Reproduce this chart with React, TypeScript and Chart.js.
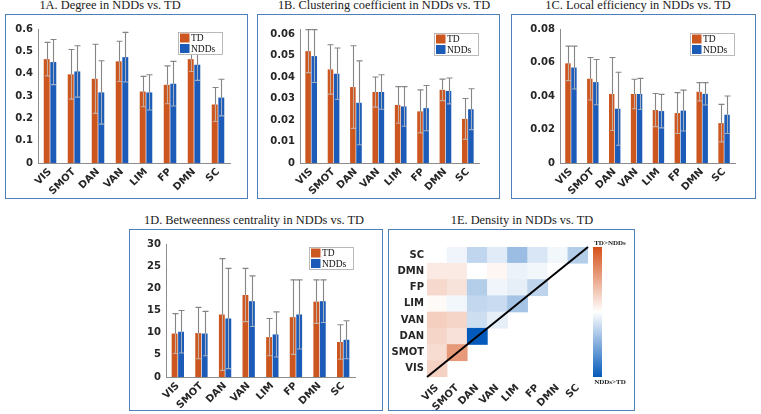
import React, { useEffect, useRef } from "react";
import { Chart, registerables } from "chart.js";

Chart.register(...registerables);

// ---------------- DATA ----------------
const networks = ["VIS", "SMOT", "DAN", "VAN", "LIM", "FP", "DMN", "SC"];
const seriesNames = ["TD", "NDDs"];

// 1A. Degree
const degreeTD = [0.465, 0.397, 0.377, 0.455, 0.32, 0.35, 0.465, 0.262];
const degreeNDD = [0.452, 0.41, 0.316, 0.474, 0.316, 0.355, 0.44, 0.293];
const degreeTDErr = [0.075, 0.111, 0.155, 0.09, 0.068, 0.085, 0.055, 0.076];
const degreeNDDErr = [0.101, 0.115, 0.142, 0.111, 0.079, 0.1, 0.07, 0.082];

// 1B. Clustering coefficient
const clusterTD = [0.052, 0.0435, 0.0353, 0.033, 0.027, 0.024, 0.034, 0.0205];
const clusterNDD = [0.0497, 0.0415, 0.028, 0.033, 0.0263, 0.0255, 0.0335, 0.025];
const clusterTDErr = [0.01, 0.0115, 0.0192, 0.007, 0.0085, 0.01, 0.005, 0.0095];
const clusterNDDErr = [0.0123, 0.012, 0.0195, 0.008, 0.0092, 0.0105, 0.006, 0.0095];

// 1C. Local efficiency
const effTD = [0.0595, 0.0503, 0.0412, 0.0412, 0.0316, 0.0298, 0.0425, 0.0238];
const effNDD = [0.057, 0.0483, 0.0324, 0.0412, 0.031, 0.0313, 0.0413, 0.0288];
const effTDErr = [0.0103, 0.0127, 0.0218, 0.0088, 0.0099, 0.0122, 0.0055, 0.0112];
const effNDDErr = [0.0128, 0.0135, 0.0218, 0.0093, 0.01, 0.0122, 0.0067, 0.0112];

// 1D. Betweenness centrality
const betwTD = [9.8, 9.9, 14.1, 18.5, 9.0, 13.5, 17.0, 7.9];
const betwNDD = [10.2, 9.8, 13.2, 17.1, 9.6, 14.1, 17.1, 8.4];
const betwTDErr = [4.5, 5.8, 12.6, 6.0, 4.2, 8.4, 4.9, 3.9];
const betwNDDErr = [4.8, 5.0, 11.3, 5.7, 5.1, 7.8, 4.8, 4.3];

// 1E. Density difference (TD - NDDs, scaled -1..1), lower triangle rows VIS..SC
const densityVIS = [0.26];
const densitySMOT = [0.2, 0.58];
const densityDAN = [0.24, 0.17, -1.0];
const densityVAN = [0.28, 0.24, -0.2, -0.1];
const densityLIM = [0.03, -0.05, -0.24, -0.22, -0.36];
const densityFP = [0.22, 0.16, -0.3, -0.06, -0.1, -0.26];
const densityDMN = [0.12, 0.12, 0.0, 0.05, -0.08, -0.05, 0.0];
const densitySC = [0.0, -0.06, -0.25, -0.12, -0.4, -0.15, -0.05, -0.3];
const densityRows = [densityVIS, densitySMOT, densityDAN, densityVAN, densityLIM, densityFP, densityDMN, densitySC];

// ---------------- STYLE / LAYOUT ----------------
const TD_COLOR = "#cc561f";
const NDD_COLOR = "#1c5cb8";
const AXIS_COLOR = "#8c8c8c";
const TEXT_COLOR = "#262626";
const BOX_COLOR = "#4f7fbb";
const TICK_FONT = { family: "'DejaVu Sans', sans-serif", size: 10, weight: "bold" as const };
const SERIF = "'Liberation Serif', 'DejaVu Serif', serif";

type Box = [number, number, number, number];

type BarPanel = {
  title: string;
  titleX: number;
  titleY: number;
  box: Box;
  area: Box;
  yMax: number;
  yStep: number;
  td: number[];
  ndd: number[];
  tdErr: number[];
  nddErr: number[];
  legend: [number, number];
};

const barPanels: BarPanel[] = [
  {
    title: "1A. Degree in NDDs vs. TD", titleX: 110, titleY: -1,
    box: [5, 14, 248, 199], area: [38, 29, 230, 163], yMax: 0.6, yStep: 0.1,
    td: degreeTD, ndd: degreeNDD, tdErr: degreeTDErr, nddErr: degreeNDDErr, legend: [178, 32],
  },
  {
    title: "1B. Clustering coefficient in NDDs vs. TD", titleX: 384, titleY: -1,
    box: [257, 14, 500, 199], area: [300, 29, 479, 163], yMax: 0.0623, yStep: 0.01,
    td: clusterTD, ndd: clusterNDD, tdErr: clusterTDErr, nddErr: clusterNDDErr, legend: [434, 33],
  },
  {
    title: "1C. Local efficiency in NDDs vs. TD", titleX: 638, titleY: -1,
    box: [511, 14, 756, 199], area: [560, 29, 735, 163], yMax: 0.08, yStep: 0.02,
    td: effTD, ndd: effNDD, tdErr: effTDErr, nddErr: effNDDErr, legend: [690, 33],
  },
  {
    title: "1D. Betweenness centrality in NDDs vs. TD", titleX: 254, titleY: 214,
    box: [129, 229, 383, 411], area: [166, 244, 355, 377], yMax: 30, yStep: 5,
    td: betwTD, ndd: betwNDD, tdErr: betwTDErr, nddErr: betwNDDErr, legend: [309, 247],
  },
];

const heatPanel = {
  title: "1E. Density in NDDs vs. TD", titleX: 522, titleY: 214,
  box: [388, 229, 635, 411] as Box, area: [427, 247, 588, 377] as Box,
};

function canvasRect(box: Box) {
  return { x: box[0] + 1, y: box[1] + 1, w: box[2] - box[0] - 2, h: box[3] - box[1] - 2 };
}

const POS_RGB = [214, 80, 24];
const NEG_RGB = [4, 90, 186];
function diffColor(v: number) {
  const t = Math.min(1, Math.abs(v));
  const c = v >= 0 ? POS_RGB : NEG_RGB;
  const mix = (k: number) => Math.round(255 + (c[k] - 255) * t);
  return `rgb(${mix(0)},${mix(1)},${mix(2)})`;
}

// ---------------- PLUGINS ----------------
const errorBarPlugin = {
  id: "errorBars",
  afterDatasetsDraw(chart: any, _args: any, opts: any) {
    const errs = opts && opts.errors;
    if (!errs) return;
    const ctx = chart.ctx;
    const ys = chart.scales.y;
    chart.data.datasets.forEach((ds: any, i: number) => {
      const meta = chart.getDatasetMeta(i);
      meta.data.forEach((el: any, j: number) => {
        const v = ds.data[j];
        const e = errs[i][j];
        const x = Math.round(el.x) + 0.5;
        const yTop = ys.getPixelForValue(v + e);
        const yBar = ys.getPixelForValue(v);
        const yBot = ys.getPixelForValue(Math.max(0, v - e));
        ctx.save();
        ctx.lineWidth = 1.1;
        ctx.strokeStyle = "rgba(195,195,195,0.8)";
        ctx.beginPath();
        ctx.moveTo(x, yBar);
        ctx.lineTo(x, yBot);
        ctx.moveTo(x - 2.5, yBot);
        ctx.lineTo(x + 2.5, yBot);
        ctx.stroke();
        ctx.strokeStyle = "#858585";
        ctx.beginPath();
        ctx.moveTo(x, yBar);
        ctx.lineTo(x, yTop);
        ctx.moveTo(x - 3, yTop);
        ctx.lineTo(x + 3, yTop);
        ctx.stroke();
        ctx.restore();
      });
    });
  },
};

const boxLegendPlugin = {
  id: "boxLegend",
  afterDraw(chart: any, _args: any, opts: any) {
    if (!opts || opts.x === undefined) return;
    const ctx = chart.ctx;
    const { x, y } = opts;
    const w = 45;
    const h = 23;
    ctx.save();
    ctx.fillStyle = "#ffffff";
    ctx.fillRect(x, y, w, h);
    ctx.strokeStyle = "#a8a8a8";
    ctx.lineWidth = 0.8;
    ctx.strokeRect(x + 0.5, y + 0.5, w - 1, h - 1);
    chart.data.datasets.forEach((ds: any, i: number) => {
      const ry = y + 1.5 + i * 10.5;
      ctx.fillStyle = ds.backgroundColor;
      ctx.fillRect(x + 2, ry, 9.5, 9);
      ctx.fillStyle = "#111111";
      ctx.font = `9.5px ${SERIF}`;
      ctx.textBaseline = "middle";
      ctx.textAlign = "left";
      ctx.fillText(ds.label, x + 13, ry + 5);
    });
    ctx.restore();
  },
};

const heatExtrasPlugin = {
  id: "heatExtras",
  afterDatasetsDraw(chart: any) {
    const ctx = chart.ctx;
    const xs = chart.scales.x;
    const ys = chart.scales.y;
    const a = chart.chartArea;
    ctx.save();
    // diagonal line
    ctx.strokeStyle = "#000000";
    ctx.lineWidth = 2;
    ctx.beginPath();
    ctx.moveTo(xs.left, ys.getPixelForValue(-0.5));
    ctx.lineTo(xs.right, ys.getPixelForValue(networks.length - 0.5));
    ctx.stroke();
    // colorbar
    const cbX = a.right + 5;
    const cbW = 9;
    const g = ctx.createLinearGradient(0, a.top, 0, a.bottom);
    g.addColorStop(0, diffColor(1));
    g.addColorStop(0.5, diffColor(0));
    g.addColorStop(1, diffColor(-1));
    ctx.fillStyle = g;
    ctx.fillRect(cbX, a.top, cbW, a.bottom - a.top);
    ctx.fillStyle = "#222222";
    ctx.font = `bold 7px ${SERIF}`;
    ctx.textAlign = "center";
    ctx.textBaseline = "middle";
    ctx.fillText("TD>NDDs", cbX + 17, a.top - 4);
    ctx.fillText("NDDs>TD", cbX + 17, a.bottom + 5);
    ctx.restore();
  },
};

// ---------------- CHART BUILDERS ----------------
function makeBarChart(canvas: HTMLCanvasElement, p: BarPanel) {
  const cr = canvasRect(p.box);
  const [L, T, R, B] = p.area;
  return new Chart(canvas, {
    type: "bar",
    data: {
      labels: networks,
      datasets: [
        { label: seriesNames[0], data: p.td, backgroundColor: TD_COLOR, categoryPercentage: 0.55, barPercentage: 0.9 },
        { label: seriesNames[1], data: p.ndd, backgroundColor: NDD_COLOR, categoryPercentage: 0.55, barPercentage: 0.9 },
      ],
    },
    options: {
      responsive: false,
      animation: false,
      devicePixelRatio: 1,
      layout: { padding: { left: 0, top: T - cr.y, right: cr.x + cr.w - R, bottom: 0 } },
      plugins: {
        legend: { display: false },
        tooltip: { enabled: false },
        errorBars: { errors: [p.tdErr, p.nddErr] },
        boxLegend: { x: p.legend[0] - cr.x, y: p.legend[1] - cr.y },
      } as any,
      scales: {
        x: {
          grid: { display: false, drawTicks: false },
          border: { display: true, color: AXIS_COLOR, width: 1 },
          ticks: { font: TICK_FONT, color: TEXT_COLOR, minRotation: 45, maxRotation: 45, autoSkip: false, padding: 3 },
          afterFit: (s: any) => { s.height = cr.y + cr.h - B; },
        },
        y: {
          min: 0,
          max: p.yMax,
          grid: { display: false, drawTicks: false },
          border: { display: true, color: AXIS_COLOR, width: 1 },
          ticks: { stepSize: p.yStep, includeBounds: false, font: TICK_FONT, color: TEXT_COLOR, padding: 5 },
          afterFit: (s: any) => { s.width = L - cr.x; },
        },
      },
    } as any,
    plugins: [errorBarPlugin, boxLegendPlugin],
  });
}

function makeHeatChart(canvas: HTMLCanvasElement) {
  const cr = canvasRect(heatPanel.box);
  const [L, T, R, B] = heatPanel.area;
  return new Chart(canvas, {
    type: "bar",
    data: {
      labels: networks,
      datasets: densityRows.map((row, r) => ({
        label: networks[r],
        data: networks.map((_, c) => (c < row.length ? [r - 0.5, r + 0.5] : null)),
        backgroundColor: networks.map((_, c) => (c < row.length ? diffColor(row[c]) : "rgba(0,0,0,0)")),
        borderWidth: 0,
        grouped: false,
        categoryPercentage: 1,
        barPercentage: 1,
      })) as any,
    },
    options: {
      responsive: false,
      animation: false,
      devicePixelRatio: 1,
      layout: { padding: { left: 0, top: T - cr.y, right: cr.x + cr.w - R, bottom: 0 } },
      plugins: { legend: { display: false }, tooltip: { enabled: false } },
      scales: {
        x: {
          grid: { display: false, drawTicks: false },
          border: { display: false },
          ticks: { font: TICK_FONT, color: TEXT_COLOR, minRotation: 45, maxRotation: 45, autoSkip: false, padding: 5 },
          afterFit: (s: any) => { s.height = cr.y + cr.h - B; },
        },
        y: {
          type: "linear",
          min: -0.5,
          max: networks.length - 0.5,
          grid: { display: false, drawTicks: false },
          border: { display: false },
          afterBuildTicks: (s: any) => { s.ticks = networks.map((_, i) => ({ value: i })); },
          ticks: {
            font: TICK_FONT, color: TEXT_COLOR, padding: 3,
            callback: (v: any) => networks[Math.round(Number(v))],
          },
          afterFit: (s: any) => { s.width = L - cr.x; },
        },
      },
    } as any,
    plugins: [heatExtrasPlugin],
  });
}

// ---------------- COMPONENT ----------------
function Title({ text, x, y }: { text: string; x: number; y: number }) {
  return (
    <div
      style={{
        position: "absolute", left: x, top: y, transform: "translateX(-50%)",
        whiteSpace: "nowrap", fontFamily: SERIF, fontSize: 12.4, lineHeight: "12px", color: "#1a1a1a",
      }}
    >
      {text}
    </div>
  );
}

function Frame({ box }: { box: Box }) {
  return (
    <div
      style={{
        position: "absolute", left: box[0], top: box[1], width: box[2] - box[0], height: box[3] - box[1],
        boxSizing: "border-box", border: `1px solid ${BOX_COLOR}`,
      }}
    />
  );
}

export default function App() {
  const refs = useRef<(HTMLCanvasElement | null)[]>([]);

  useEffect(() => {
    const charts: Chart[] = [];
    barPanels.forEach((p, i) => {
      const c = refs.current[i];
      if (c) charts.push(makeBarChart(c, p));
    });
    const hc = refs.current[barPanels.length];
    if (hc) charts.push(makeHeatChart(hc));
    return () => charts.forEach((c) => c.destroy());
  }, []);

  const allBoxes: Box[] = [...barPanels.map((p) => p.box), heatPanel.box];

  return (
    <div style={{ position: "absolute", left: 0, top: 0, width: 761, height: 414, background: "#ffffff", overflow: "hidden" }}>
      {allBoxes.map((b, i) => <Frame key={"f" + i} box={b} />)}
      {allBoxes.map((b, i) => {
        const cr = canvasRect(b);
        return (
          <canvas
            key={"c" + i}
            ref={(el) => { refs.current[i] = el; }}
            width={cr.w}
            height={cr.h}
            style={{ position: "absolute", left: cr.x, top: cr.y, width: cr.w, height: cr.h }}
          />
        );
      })}
      {barPanels.map((p, i) => <Title key={"t" + i} text={p.title} x={p.titleX} y={p.titleY} />)}
      <Title text={heatPanel.title} x={heatPanel.titleX} y={heatPanel.titleY} />
    </div>
  );
}
